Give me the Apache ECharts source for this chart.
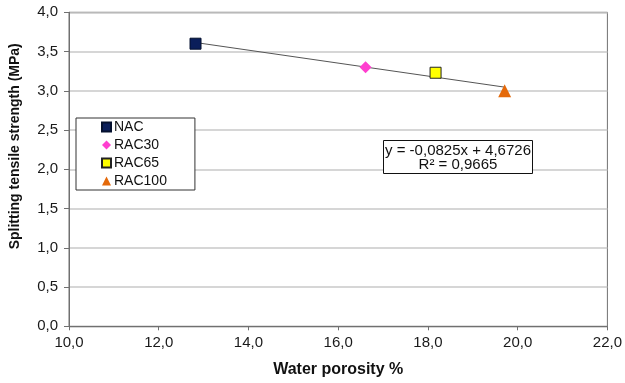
<!DOCTYPE html>
<html>
<head>
<meta charset="utf-8">
<title>Splitting tensile strength vs water porosity</title>
<script src="https://cdn.jsdelivr.net/npm/echarts@6/dist/echarts.min.js"></script>
<style>
  html, body { margin: 0; padding: 0; background: #fff; }
  #chart { width: 625px; height: 383px; }
</style>
</head>
<body>
<div id="chart"></div>
<script>
// Concrete mixes and their measured values
const mixes = ['NAC', 'RAC30', 'RAC65', 'RAC100'];
const waterPorosity = [12.82, 16.61, 18.17, 19.71];       // %
const tensileStrength = [3.60, 3.30, 3.23, 3.00];         // MPa

// Linear trend fitted to the four mixes
const trendSlope = -0.0825;
const trendIntercept = 4.6726;
const trendR2 = 0.9665;

// Axis ranges and ticks
const xTicks = [10, 12, 14, 16, 18, 20, 22];
const yTicks = [0, 0.5, 1, 1.5, 2, 2.5, 3, 3.5, 4];

const FONT = '"Liberation Sans", Arial, sans-serif';
const comma = (v, d) => v.toFixed(d).replace('.', ',');

const markerStyles = {
  NAC:    { symbol: 'rect',     symbolSize: 11, itemStyle: { color: '#0a1e5a', borderColor: '#04102e', borderWidth: 1, opacity: 1 } },
  RAC30:  { symbol: 'diamond',  symbolSize: 12, itemStyle: { color: '#ff3fcf', opacity: 1 } },
  RAC65:  { symbol: 'rect',     symbolSize: 11, itemStyle: { color: '#ffff00', borderColor: '#222', borderWidth: 1, opacity: 1 } },
  RAC100: { symbol: 'triangle', symbolSize: 13, itemStyle: { color: '#e4690a', opacity: 1 } }
};

const pointSeries = mixes.map((name, i) => Object.assign({
  name: name,
  type: 'scatter',
  z: 3,
  data: [[waterPorosity[i], tensileStrength[i]]]
}, markerStyles[name]));

const xLo = Math.min(...waterPorosity);
const xHi = Math.max(...waterPorosity);
const trendLine = {
  name: 'trend',
  type: 'line',
  z: 2,
  symbol: 'none',
  silent: true,
  lineStyle: { color: '#555', width: 1 },
  data: [xLo, xHi].map(x => [x, trendSlope * x + trendIntercept])
};

const eqText = 'y = ' + comma(trendSlope, 4) + 'x + ' + comma(trendIntercept, 4);
const r2Text = 'R² = ' + comma(trendR2, 4);

const chart = echarts.init(document.getElementById('chart'), null, { renderer: 'canvas' });
chart.setOption({
  animation: false,
  backgroundColor: '#fff',
  textStyle: { fontFamily: FONT },
  grid: {
    left: 66.5, right: 15, top: 12.3, bottom: 56.7,
    show: true, borderColor: '#707070', borderWidth: 1, backgroundColor: 'transparent'
  },
  xAxis: {
    type: 'value',
    min: xTicks[0], max: xTicks[xTicks.length - 1], interval: xTicks[1] - xTicks[0],
    name: 'Water porosity %',
    nameLocation: 'middle',
    nameGap: 35,
    nameTextStyle: { fontFamily: FONT, fontSize: 16, fontWeight: 'bold', color: '#111' },
    axisLine: { show: true, lineStyle: { color: '#707070', width: 1 } },
    axisTick: { show: true, inside: false, length: 4, lineStyle: { color: '#707070' } },
    axisLabel: { fontFamily: FONT, fontSize: 15, color: '#1a1a1a', margin: 9, formatter: v => comma(v, 1) },
    splitLine: { show: false }
  },
  yAxis: {
    type: 'value',
    min: yTicks[0], max: yTicks[yTicks.length - 1], interval: yTicks[1] - yTicks[0],
    name: 'Splitting tensile strength (MPa)',
    nameLocation: 'middle',
    nameGap: 47,
    nameTextStyle: { fontFamily: FONT, fontSize: 14, fontWeight: 'bold', color: '#111', padding: [0, 0, 0, 46] },
    axisLine: { show: true, lineStyle: { color: '#707070', width: 1 } },
    axisTick: { show: true, inside: false, length: 5, lineStyle: { color: '#707070' } },
    axisLabel: { fontFamily: FONT, fontSize: 15, color: '#1a1a1a', margin: 11, formatter: v => comma(v, 1) },
    splitLine: { show: true, lineStyle: { color: '#c9c9c9', width: 1.5 } }
  },
  legend: {
    data: mixes,
    orient: 'vertical',
    left: 76, top: 118,
    itemWidth: 9, itemHeight: 9,
    itemGap: 4,
    padding: [2, 28, 2, 25],
    backgroundColor: '#fff',
    borderColor: '#333',
    borderWidth: 1,
    borderRadius: 0,
    textStyle: { fontFamily: FONT, fontSize: 14, color: '#111', padding: [0, 0, 0, -2] }
  },
  graphic: [
    {
      type: 'rect', z: 10,
      shape: { x: 383.5, y: 140.5, width: 149, height: 33 },
      style: { fill: '#fff', stroke: '#111', lineWidth: 1 }
    },
    {
      type: 'text', z: 11, x: 458, y: 150.5,
      style: { text: eqText, font: '15px ' + FONT, fill: '#111', textAlign: 'center', textVerticalAlign: 'middle' }
    },
    {
      type: 'text', z: 11, x: 458, y: 164.5,
      style: { text: r2Text, font: '15px ' + FONT, fill: '#111', textAlign: 'center', textVerticalAlign: 'middle' }
    }
  ],
  series: [trendLine].concat(pointSeries)
});
</script>
</body>
</html>
